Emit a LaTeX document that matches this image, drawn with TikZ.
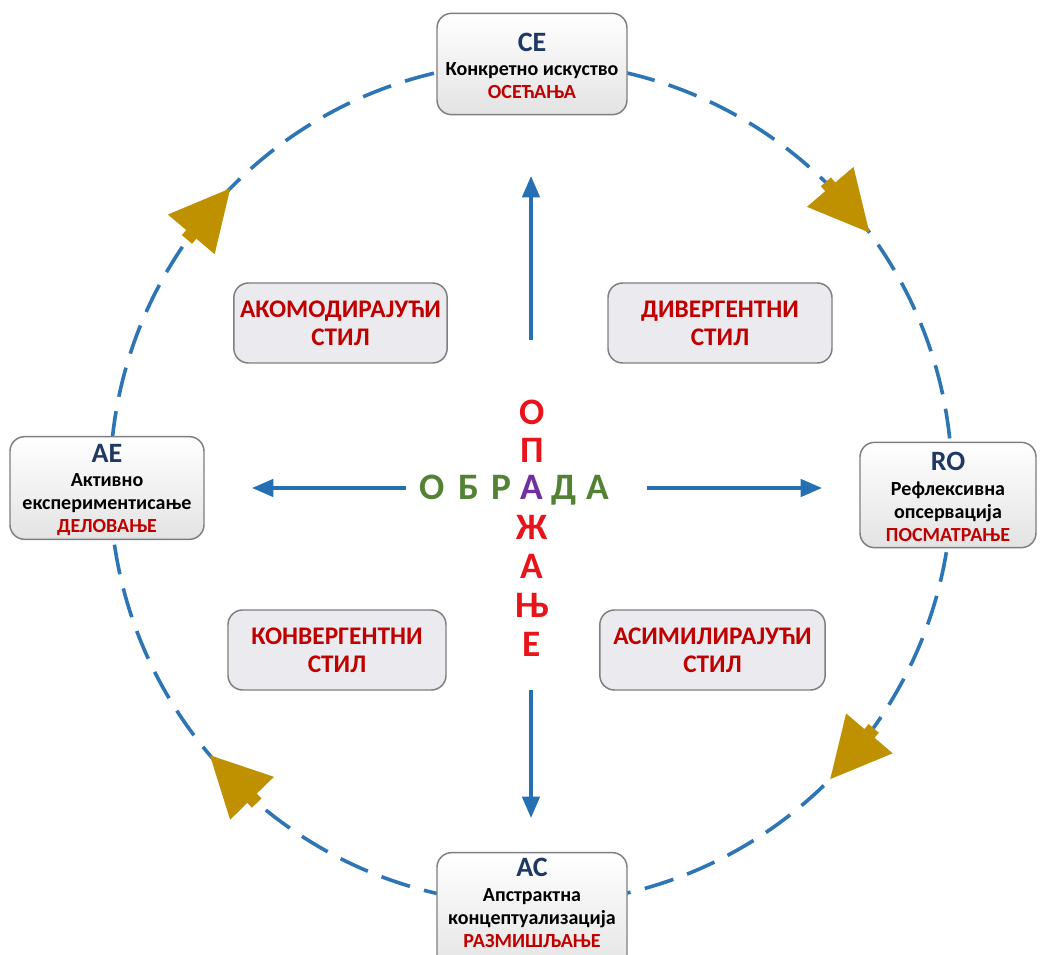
\documentclass[tikz,border=0pt]{standalone}
\usepackage{fontspec}
\setmainfont{Carlito}
\usetikzlibrary{arrows.meta,calc}
\definecolor{ringblue}{HTML}{2E75B6}
\definecolor{axisblue}{HTML}{2470B3}
\definecolor{tipgold}{HTML}{BF9000}
\definecolor{navy}{HTML}{1F3864}
\definecolor{labred}{HTML}{C00000}
\definecolor{brightred}{HTML}{E8141B}
\definecolor{leafgreen}{HTML}{548235}
\definecolor{midpurple}{HTML}{7030A0}
\definecolor{edgegray}{HTML}{7F7F7F}
\definecolor{stylefill}{HTML}{EBEBEF}
\begin{document}
\begin{tikzpicture}[x=0.75pt,y=-0.75pt,
  ring/.style={draw=ringblue, line width=2.7pt, dash pattern=on 22.5pt off 11pt},
  axis/.style={draw=axisblue, line width=2.6pt, -{Triangle[length=16pt,width=13pt]}},
  boxshape/.style={draw=edgegray, line width=1.1pt, rounded corners=11pt,
    top color=white, bottom color=black!11, inner sep=0pt},
  boxtext/.style={align=center, inner sep=0pt,
    font=\bfseries\fontsize{15}{17.3}\selectfont},
  stylebox/.style={draw=edgegray, line width=1.1pt, rounded corners=11pt,
    fill=stylefill, text=labred, align=center, inner sep=0pt,
    font=\bfseries\fontsize{19}{21}\selectfont},
  big/.style={font=\bfseries\fontsize{28}{28}\selectfont, inner sep=0pt,
    text height=18pt, text depth=0pt}
]
\useasboundingbox (0,0) rectangle (1040,955);
\fill[white] (0,0) rectangle (1040,955);

% learning cycle ring
\coordinate (c) at (531,483);
\draw[ring] (c) circle[radius=315.75pt];

% direction marks on the ring (clockwise)
\foreach \ta/\tb [count=\k] in {-36.5/-44.7, -135.6/-143.8, 44.7/36.5, 139.7/131.5}{
  \coordinate (t\k) at ($(c)+(\ta:421)$);
  \coordinate (b\k) at ($(c)+(\tb:421)$);
  \coordinate (s\k) at ($(b\k)!-5pt!(t\k)$);
  \fill[tipgold] (t\k) -- ($(b\k)!23pt!90:(t\k)$) -- ($(b\k)!5pt!90:(t\k)$)
    -- ($(s\k)!5pt!90:(t\k)$) -- ($(s\k)!5pt!-90:(t\k)$)
    -- ($(b\k)!5pt!-90:(t\k)$) -- ($(b\k)!23pt!-90:(t\k)$) -- cycle;
}

% four poles of the cycle
\node[boxshape, minimum width=142.5pt, minimum height=76pt] (ce) at (532,64) {};
\node[boxtext] (cet) at (532,66)
  {{\fontsize{21}{25}\selectfont\color{navy}CE}\\[1pt] Конкретно искуство\\ {\color{labred}ОСЕЋАЊА}};
\node[boxshape, minimum width=145.5pt, minimum height=77pt] (ae) at (107,488) {};
\node[boxtext] (aet) at (107,490)
  {{\fontsize{21}{25}\selectfont\color{navy}AE}\\[1pt] Активно\\ експериментисање\\ {\color{labred}ДЕЛОВАЊЕ}};
\node[boxshape, minimum width=132pt, minimum height=79pt] (ro) at (948,495) {};
\node[boxtext] (rot) at (948,497)
  {{\fontsize{21}{25}\selectfont\color{navy}RO}\\[1pt] Рефлексивна\\ опсервација\\ {\color{labred}ПОСМАТРАЊЕ}};
\node[boxshape, minimum width=142.5pt, minimum height=92pt] (ac) at (532,914) {};
\node[boxtext] (act) at (532,903)
  {{\fontsize{21}{25}\selectfont\color{navy}AC}\\[1pt] Апстрактна\\ концептуализација\\ {\color{labred}РАЗМИШЉАЊЕ}};

% learning styles
\node[stylebox, minimum width=160pt, minimum height=60pt] (akom) at (340.5,323) {АКОМОДИРАЈУЋИ\\ СТИЛ};
\node[stylebox, minimum width=168pt, minimum height=60pt] (div) at (720,323) {ДИВЕРГЕНТНИ\\ СТИЛ};
\node[stylebox, minimum width=163.5pt, minimum height=60pt] (konv) at (337,650) {КОНВЕРГЕНТНИ\\ СТИЛ};
\node[stylebox, minimum width=169pt, minimum height=60pt] (asim) at (712.5,650) {АСИМИЛИРАЈУЋИ\\ СТИЛ};

% the two axes
\coordinate (upS) at (531,340);  \coordinate (upE) at (531,176);
\coordinate (dnS) at (531,690);  \coordinate (dnE) at (531,818);
\coordinate (lfS) at (406,488);  \coordinate (lfE) at (252,488);
\coordinate (rtS) at (647,488);  \coordinate (rtE) at (822,488);
\draw[axis] (upS) -- (upE);
\draw[axis] (dnS) -- (dnE);
\draw[axis] (lfS) -- (lfE);
\draw[axis] (rtS) -- (rtE);

% crossing words
\foreach \l/\x [count=\i] in {О/432, Б/469, Р/501, Д/564, А/598}
  \node[big, text=leafgreen] (h\i) at (\x,488) {\l};
\foreach \l/\y [count=\i] in {О/413, П/451, Ж/528, А/567, Њ/606, Е/645}
  \node[big, text=brightred] (v\i) at (532,\y) {\l};
\node[big, text=midpurple] (mid) at (532,488) {А};
\end{tikzpicture}
\end{document}
